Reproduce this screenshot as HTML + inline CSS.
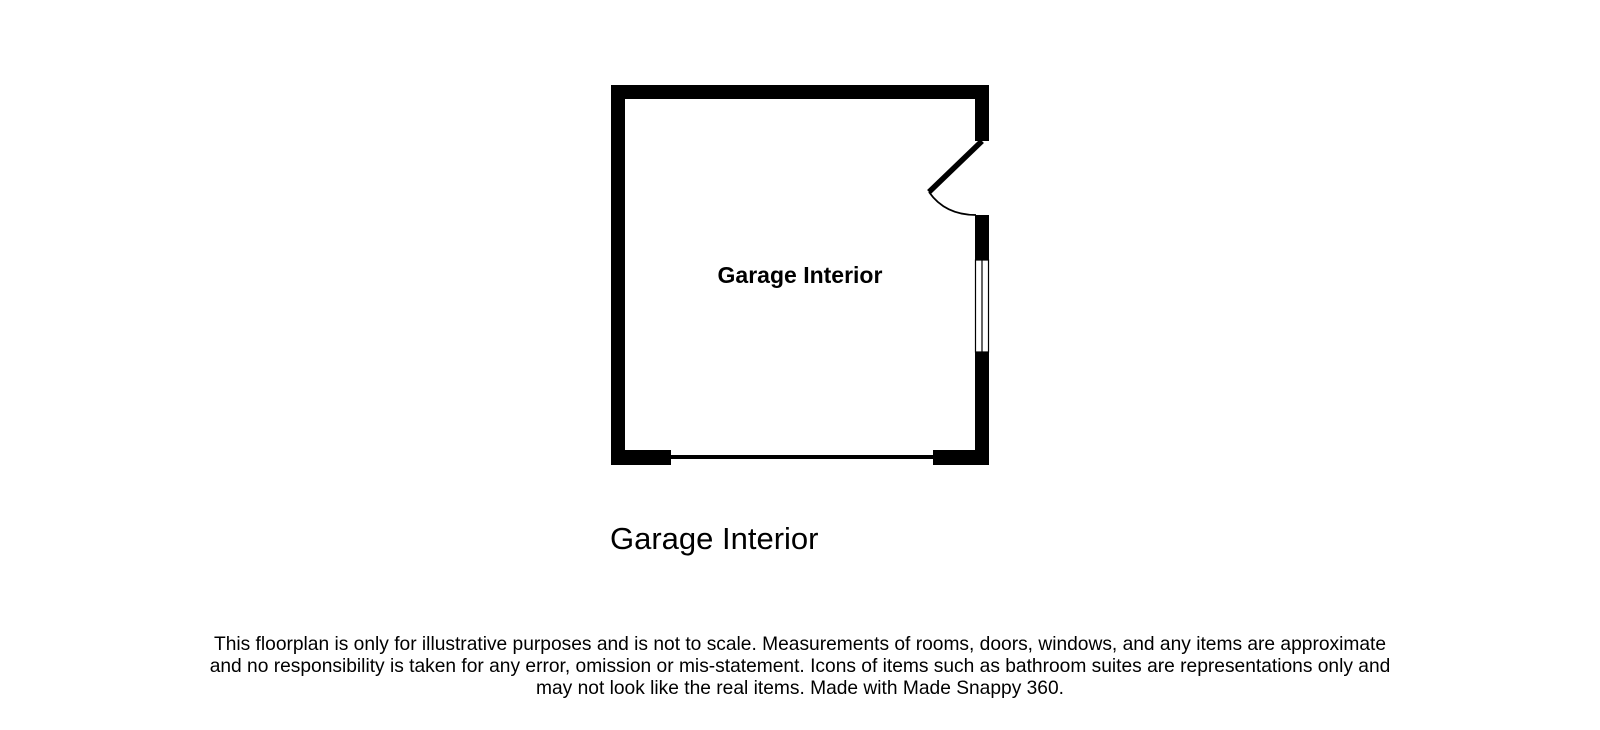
<!DOCTYPE html>
<html><head><style>
body{margin:0;width:1600px;height:730px;background:#fff;overflow:hidden;font-family:"Liberation Sans",Arial,sans-serif}
.foot{position:absolute;left:0;width:1600px;top:634px;text-align:center;font-size:19.2px;line-height:22px;color:#000}
</style></head><body>
<svg width="1600" height="730" style="position:absolute;left:0;top:0">
<rect x="611" y="85" width="378" height="14" fill="#000"/>
<rect x="611" y="85" width="14" height="380" fill="#000"/>
<rect x="975" y="85" width="14" height="56" fill="#000"/>
<rect x="975" y="215" width="14" height="45" fill="#000"/>
<rect x="975" y="352" width="14" height="113" fill="#000"/>
<rect x="975.5" y="260" width="13" height="92" fill="#fff" stroke="#000" stroke-width="1.2"/>
<line x1="982" y1="260" x2="982" y2="352" stroke="#000" stroke-width="1.2"/>
<rect x="611" y="450" width="60" height="15" fill="#000"/>
<rect x="933" y="450" width="56" height="15" fill="#000"/>
<rect x="671" y="455" width="262" height="4" fill="#000"/>
<line x1="982" y1="141" x2="929" y2="192" stroke="#000" stroke-width="5.5"/>
<path d="M929 192 Q945 215 976 215" fill="none" stroke="#000" stroke-width="1.8"/>
<text x="800" y="283" font-size="23" font-weight="bold" text-anchor="middle" font-family="Liberation Sans,Arial,sans-serif">Garage Interior</text>
<text x="610" y="549" font-size="31" font-family="Liberation Sans,Arial,sans-serif">Garage Interior</text>
</svg>
<div class="foot">This floorplan is only for illustrative purposes and is not to scale. Measurements of rooms, doors, windows, and any items are approximate<br>and no responsibility is taken for any error, omission or mis-statement. Icons of items such as bathroom suites are representations only and<br>may not look like the real items. Made with Made Snappy 360.</div>
</body></html>
